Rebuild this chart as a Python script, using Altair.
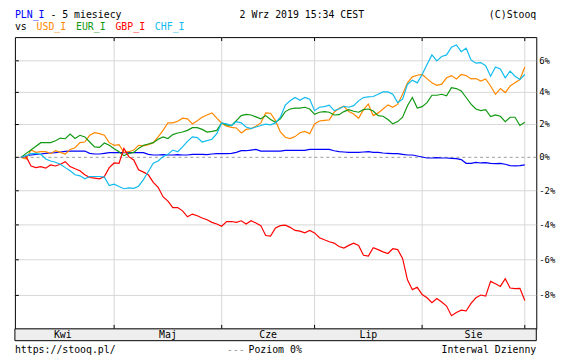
import altair as alt
import pandas as pd

# ---------------- data ----------------
idx = list(range(1, 105))  # trading-day index (Apr 2 .. Sep 2)

pln = [0, 0.08, 0.14, 0.18, 0.2, 0.24, 0.26, 0.28, 0.32, 0.36,
       0.38, 0.38, 0.38, 0.38, 0.24, 0.2, 0.2, 0.24, 0.28, 0.28,
       0.28, 0.28, 0.28, 0.28, 0.28, 0.28, 0.18, 0.14, 0.14, 0.16,
       0.14, 0.14, 0.16, 0.14, 0.14, 0.18, 0.18, 0.18, 0.16, 0.2,
       0.22, 0.22, 0.22, 0.24, 0.3, 0.4, 0.4, 0.44, 0.48, 0.38,
       0.38, 0.38, 0.38, 0.38, 0.42, 0.42, 0.42, 0.42, 0.42, 0.48,
       0.48, 0.48, 0.48, 0.48, 0.4, 0.34, 0.32, 0.3, 0.3, 0.3,
       0.32, 0.34, 0.3, 0.3, 0.26, 0.24, 0.22, 0.22, 0.18, 0.14,
       0.14, 0.08, 0.02, -0.04, -0.04, -0.02, -0.04, -0.04, -0.06, -0.08,
       -0.14, -0.36, -0.36, -0.3, -0.34, -0.32, -0.36, -0.38, -0.36, -0.42,
       -0.5, -0.52, -0.5, -0.46]

usd = [0, -0.1, 0.44, 0.3, 0.34, 0.34, 0.22, 0.4, 0.3, 0.2,
       0.48, 0.58, 0.89, 0.93, 1.34, 1.5, 1.44, 1.34, 0.89, 0.73,
       0.77, 0.3, 0.34, 0.44, 0.73, 0.69, 0.77, 0.89, 1.24, 1.64,
       2.1, 2.1, 2.2, 2.39, 2.35, 2.04, 2.24, 2.45, 2.59, 2.72,
       2.39, 2.08, 1.9, 1.83, 1.79, 1.48, 1.7, 1.75, 1.9, 2.1,
       2.72, 2.7, 2.24, 1.54, 1.22, 1.14, 1.26, 1.5, 1.58, 1.44,
       2.04, 2.22, 2.26, 2.29, 2.76, 3.0, 3.13, 2.8, 2.65, 2.39,
       2.92, 3.26, 2.55, 2.72, 2.96, 3.22, 3.07, 3.26, 3.88, 4.6,
       4.98, 5.08, 5.13, 4.87, 4.6, 4.44, 4.52, 4.92, 5.06, 4.85,
       5.13, 5.06, 4.85, 4.87, 4.71, 4.85, 4.4, 3.88, 4.24, 3.99,
       4.4, 4.6, 4.81, 5.61]

eur = [0, 0.24, 0.44, 0.67, 0.89, 0.89, 0.89, 1.01, 1.17, 1.13,
       1.42, 1.14, 1.34, 1.24, 0.93, 0.63, 0.6, 0.87, 0.73, 0.52,
       0.34, 0.1, 0.24, 0.3, 0.54, 0.73, 0.81, 0.89, 1.1, 1.24,
       1.14, 1.38, 1.48, 1.54, 1.64, 1.81, 1.81, 1.7, 1.54, 1.58,
       1.64, 2.1, 1.98, 1.94, 2.24, 2.55, 2.63, 2.59, 2.47, 2.35,
       2.55, 2.31, 2.14, 2.35, 2.8, 2.96, 3.02, 3.02, 3.07, 2.96,
       2.63, 2.76, 2.8, 2.76, 2.59, 2.61, 2.8, 2.92, 2.82, 2.76,
       2.92, 2.96, 2.84, 2.55, 2.51, 2.31, 2.04, 2.18, 2.45, 3.17,
       3.68, 3.02, 3.11, 3.36, 3.82, 3.82, 3.88, 3.78, 4.3, 4.24,
       4.09, 3.68, 3.26, 2.96, 2.86, 2.92, 2.49, 2.59, 2.51, 2.18,
       2.45, 2.45, 1.94, 2.14]

gbp = [0, 0.04, -0.52, -0.62, -0.56, -0.65, -0.46, -0.52, -0.42, -0.26,
       -0.56, -0.69, -0.81, -1.05, -1.21, -1.25, -1.29, -1.15, -0.62, -0.34,
       -0.36, 0.54, 0.04, -0.16, -0.75, -0.89, -1.05, -1.5, -1.79, -2.35,
       -2.61, -2.99, -2.99, -3.18, -3.53, -3.37, -3.47, -3.6, -3.7, -3.85,
       -3.95, -4.08, -3.81, -3.8, -3.85, -3.76, -3.95, -3.76, -3.89, -4.04,
       -4.61, -4.65, -4.18, -4.04, -4.01, -4.14, -4.32, -4.36, -4.46, -4.32,
       -4.46, -4.74, -4.86, -4.97, -5.05, -5.24, -5.33, -5.18, -5.05, -5.18,
       -5.74, -5.79, -5.31, -5.42, -5.55, -5.64, -5.37, -5.42, -5.92, -7.13,
       -7.68, -7.55, -7.95, -8.13, -8.4, -8.17, -8.37, -8.59, -9.12, -8.94,
       -8.82, -8.86, -8.44, -8.13, -7.98, -8.04, -7.22, -7.35, -7.5, -7.07,
       -7.59, -7.62, -7.61, -8.28]

chf = [0, 0.1, 0.22, 0.24, 0.18, -0.1, -0.22, -0.3, -0.42, -0.62,
       -0.81, -1.05, -1.11, -1.29, -1.15, -1.15, -1.15, -1.19, -1.69, -1.61,
       -1.75, -1.88, -1.83, -1.86, -1.73, -1.34, -0.85, -0.36, -0.22, 0.04,
       0.18, 0.44, 0.34, 0.63, 0.97, 1.24, 1.2, 0.93, 1.01, 1.1,
       1.44, 2.1, 2.04, 1.94, 2.18, 2.1, 1.85, 1.75, 1.85, 1.94,
       2.02, 1.98, 2.1, 2.45, 3.2, 3.47, 3.68, 3.51, 3.68, 3.57,
       2.86, 3.07, 3.11, 3.2, 2.86, 2.96, 3.13, 3.07, 3.17, 3.47,
       3.68, 3.72, 3.74, 3.88, 4.03, 4.03, 3.88, 3.36, 3.57, 4.5,
       4.77, 4.6, 5.13, 5.76, 6.38, 6.0, 6.28, 6.38, 6.87, 7.02,
       6.59, 6.81, 6.06, 5.85, 5.89, 5.69, 5.02, 5.61, 5.48, 4.92,
       5.34, 5.02, 4.81, 5.13]

series_names = ["PLN_I", "USD_I", "EUR_I", "GBP_I", "CHF_I"]
series_colors = ["#0000ff", "#ff8800", "#119911", "#ff0000", "#11bbee"]
month_labels = ["Kwi", "Maj", "Cze", "Lip", "Sie"]
month_starts = [-1, 20, 42, 61, 83, 104]
y_ticks = [-8, -6, -4, -2, 0, 2, 4, 6]

# ---------------- tables ----------------
rows = []
for name, vals in zip(series_names, [pln, usd, eur, gbp, chf]):
    for i, v in zip(idx, vals):
        rows.append({"i": i, "s": name, "p": v})
df_lines = pd.DataFrame(rows)
df_yt = pd.DataFrame({"p": y_ticks, "lab": [f"{t}%" for t in y_ticks]})
df_grid = pd.DataFrame({"p": [t for t in y_ticks if t != 0]})
df_zero = pd.DataFrame({"p": [0]})
df_mgrid = pd.DataFrame({"i": [m for m in month_starts if m >= 0]})
df_mlab = pd.DataFrame({
    "mid": [(a + b) / 2 for a, b in zip(month_starts[:-1], month_starts[1:])],
    "lab": month_labels,
})
one = pd.DataFrame({"k": [0]})

W, H = 529, 296
FONT = "DejaVu Sans Mono"
FS = 10

xs = alt.Scale(domain=[-0.3, 106.35], nice=False, zero=False)
ys = alt.Scale(type="log", domain=[0.9016, 1.0753], nice=False, zero=False)
ratio = "1 + datum.p / 100"

xq = alt.X("i:Q", scale=xs, axis=None)
yq = alt.Y("r:Q", scale=ys, axis=None)

hgrid = alt.Chart(df_grid).mark_rule(color="#d6d6d6", strokeWidth=1).transform_calculate(
    r=ratio).encode(y=yq)
vgrid = alt.Chart(df_mgrid).mark_rule(color="#d6d6d6", strokeWidth=1).encode(x=xq)
zero_line = alt.Chart(df_zero).mark_rule(color="#999999", strokeDash=[3, 3], strokeWidth=1).transform_calculate(
    r=ratio).encode(y=yq)

left_ticks = alt.Chart(df_yt).mark_rule(color="black", strokeWidth=1).transform_calculate(
    r=ratio).encode(y=yq, x=alt.value(0), x2=alt.value(4))
top_ticks = alt.Chart(df_mgrid).mark_rule(color="black", strokeWidth=1).encode(
    x=xq, y=alt.value(0), y2=alt.value(4))
bot_ticks = alt.Chart(df_mgrid).mark_rule(color="black", strokeWidth=1).encode(
    x=xq, y=alt.value(H - 4), y2=alt.value(H))

y_labels = alt.Chart(df_yt).mark_text(
    font=FONT, fontSize=9, color="black", align="left", baseline="middle"
).transform_calculate(r=ratio).encode(y=yq, x=alt.value(W + 3), text="lab:N")

lines = alt.Chart(df_lines).mark_line(strokeWidth=1.2, interpolate="linear").transform_calculate(
    r=ratio).encode(
    x=xq,
    y=yq,
    color=alt.Color("s:N", scale=alt.Scale(domain=series_names, range=series_colors), legend=None),
    order=alt.Order("i:Q"),
)

band = alt.Chart(one).mark_rect(fill="#eeeeee", stroke="black", strokeWidth=1).encode(
    x=alt.value(0), x2=alt.value(W), y=alt.value(H), y2=alt.value(H + 12))
mlabels = alt.Chart(df_mlab).mark_text(font=FONT, fontSize=FS, color="black", baseline="middle").encode(
    x=alt.X("mid:Q", scale=xs, axis=None), y=alt.value(H + 6.5), text="lab:N")


def txt(t, x, y, color="black", align="left"):
    return alt.Chart(pd.DataFrame({"t": [t]})).mark_text(
        font=FONT, fontSize=FS, color=color, align=align, baseline="alphabetic"
    ).encode(x=alt.value(x), y=alt.value(y), text="t:N")


header = [
    txt("PLN_I", 0, -19, "#0000ff"),
    txt("- 5 miesiecy", 36, -19),
    txt("2 Wrz 2019 15:34 CEST", 228, -19),
    txt("(C)Stooq", W, -19, align="right"),
    txt("vs", 0, -7),
    txt("USD_I", 22, -7, series_colors[1]),
    txt("EUR_I", 62, -7, series_colors[2]),
    txt("GBP_I", 102, -7, series_colors[3]),
    txt("CHF_I", 142, -7, series_colors[4]),
    txt("https://stooq.pl/", 0, H + 25),
    txt("---", 215, H + 25, "#999999"),
    txt("Poziom 0%", 237, H + 25),
    txt("Interwal Dzienny", W, H + 25, align="right"),
]

chart = alt.layer(
    hgrid, vgrid, zero_line, left_ticks, top_ticks, bot_ticks, lines,
    band, mlabels, y_labels, *header
).properties(
    width=W, height=H,
    autosize=alt.AutoSizeParams(type="none"),
    padding={"left": 7, "top": 27, "right": 20, "bottom": 24},
    background="white",
).configure_view(stroke="black", strokeWidth=1)

chart.save("out.html", embed_options={"renderer": "svg", "actions": False})
